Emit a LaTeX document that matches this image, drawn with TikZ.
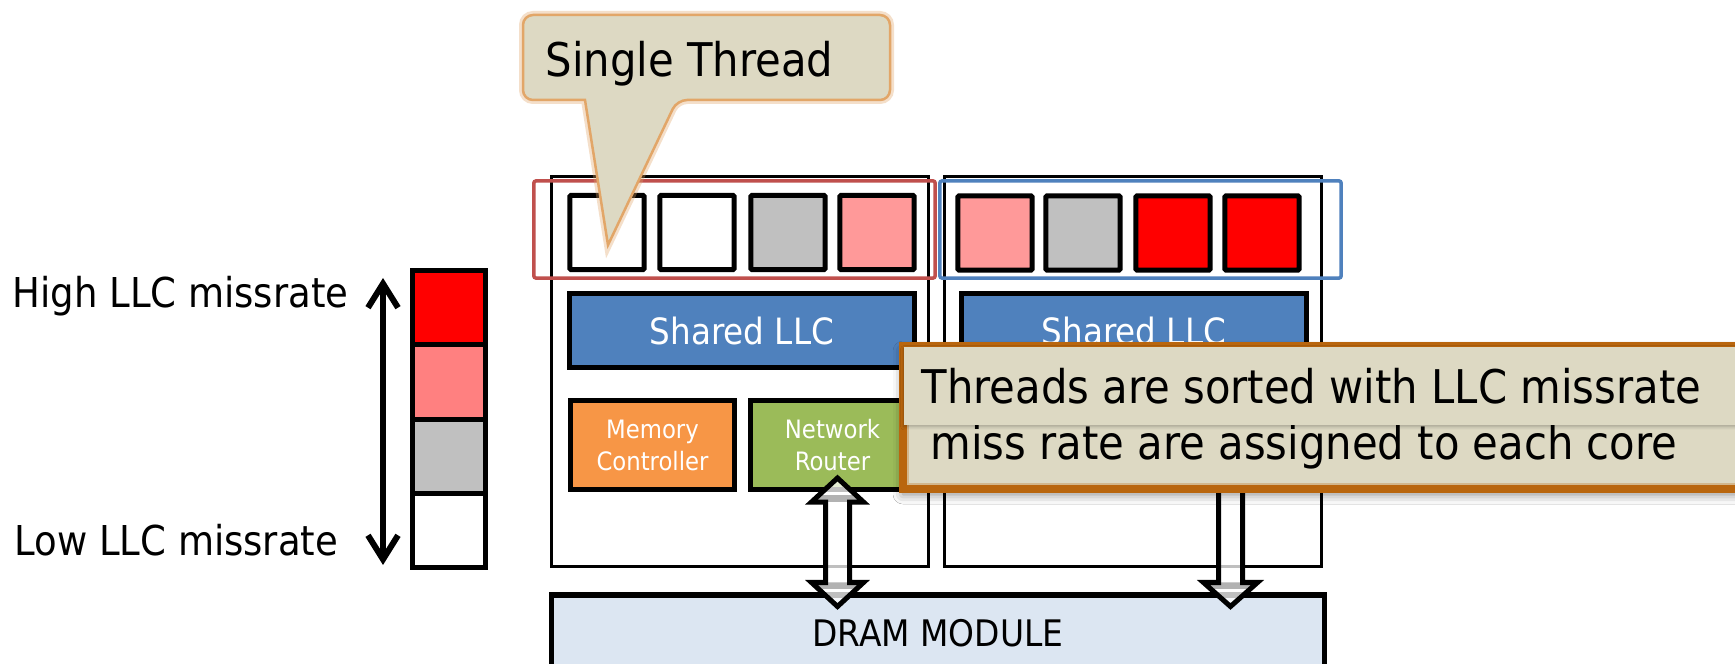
\documentclass[tikz,border=0pt]{standalone}
\usepackage{fontspec}
\setmainfont{DejaVu Sans Condensed}
\usetikzlibrary{arrows.meta, positioning, calc, shadows.blur}

\definecolor{llcblue}{RGB}{79,129,189}
\definecolor{mcorange}{RGB}{247,150,70}
\definecolor{nrgreen}{RGB}{155,187,89}
\definecolor{dramblue}{RGB}{220,230,242}
\definecolor{hotred}{RGB}{255,0,0}
\definecolor{warmpink}{RGB}{255,153,153}
\definecolor{legendpink}{RGB}{255,128,128}
\definecolor{coolgray}{RGB}{192,192,192}
\definecolor{selred}{RGB}{192,80,77}
\definecolor{selblue}{RGB}{79,129,189}
\definecolor{notebeige}{RGB}{221,217,195}
\definecolor{noteedge}{RGB}{226,166,104}
\definecolor{notebrown}{RGB}{185,102,14}

\tikzset{
  legendlabel/.style={inner sep=0pt, font=\fontsize{11.7}{14}\selectfont},
  legendcell/.style={rectangle, draw=black, line width=0.05cm, inner sep=0pt,
    outer sep=0pt, minimum width=0.73cm, minimum height=0.7425cm},
  scalearrow/.style={{Straight Barb[length=0.24cm, width=0.3cm]}-{Straight Barb[length=0.24cm, width=0.3cm]},
    line width=0.06cm, line cap=round},
  corebox/.style={rectangle, draw=black, line width=0.03cm, inner sep=0pt,
    minimum width=3.77cm, minimum height=3.90cm},
  threadbox/.style={rectangle, draw=black, line width=0.05cm, inner sep=0pt,
    rounded corners=0.01cm, minimum width=0.74cm, minimum height=0.74cm},
  groupbox/.style={rectangle, rounded corners=0.02cm, line width=0.035cm,
    inner sep=0pt, minimum width=4.01cm, minimum height=0.97cm},
  llcblock/.style={rectangle, draw=black, line width=0.05cm, fill=llcblue,
    text=white, minimum width=3.45cm, minimum height=0.74cm,
    font=\fontsize{10.3}{12}\selectfont},
  unitblock/.style={rectangle, draw=black, line width=0.05cm, text=white,
    minimum width=1.64cm, minimum height=0.89cm, align=center,
    font=\fontsize{7.2}{9.1}\selectfont},
  drambox/.style={rectangle, draw=black, line width=0.05cm, fill=dramblue,
    minimum width=7.73cm, minimum height=0.77cm,
    font=\fontsize{10.4}{12}\selectfont},
  linkedge/.style={draw=black, line width=0.05cm, line join=miter},
  tipnote/.style={fill=notebeige, draw=noteedge, line width=0.025cm,
    preaction={draw=noteedge, line width=0.08cm, draw opacity=0.35}},
  notetext/.style={inner sep=0pt, font=\fontsize{13.2}{16}\selectfont},
  sortback/.style={rectangle, fill=notebeige, draw=notebrown, line width=0.08cm,
    inner sep=0pt, minimum width=9cm, minimum height=1.43cm,
    blur shadow={shadow xshift=0cm, shadow yshift=-0.05cm,
      shadow blur radius=0.1cm, shadow opacity=50}},
  sortfront/.style={rectangle, fill=notebeige, inner sep=0pt,
    minimum width=8.6cm, minimum height=0.78cm,
    blur shadow={shadow xshift=0cm, shadow yshift=-0.02cm,
      shadow blur radius=0.03cm, shadow opacity=25}},
}

\begin{document}
\begin{tikzpicture}[x=0.01cm, y=-0.01cm]
  \useasboundingbox (0,0) rectangle (1735,664);
  \clip (0,0) rectangle (1735,664);
  \fill[white] (0,0) rectangle (1735,664);

  % miss-rate scale on the left
  \node[legendlabel, anchor=base west] (hightxt) at (12,308) {High LLC missrate};
  \node[legendlabel, anchor=base west] (lowtxt) at (14,555) {Low LLC missrate};
  \node[legendcell, fill=hotred] (lvl4) at (449,307.6) {};
  \node[legendcell, fill=legendpink, below=0pt of lvl4] (lvl3) {};
  \node[legendcell, fill=coolgray, below=0pt of lvl3] (lvl2) {};
  \node[legendcell, fill=white, below=0pt of lvl2] (lvl1) {};
  \coordinate (hi) at (383,278);
  \coordinate (lo) at (383,565);
  \draw[scalearrow] (lo) -- (hi);

  % two cores
  \node[corebox] (core1) at (740,371.5) {};
  \node[corebox] (core2) at (1133,371.5) {};

  \node[threadbox, fill=white] (t11) at (607,232.5) {};
  \node[threadbox, fill=white] (t12) at (697,232.5) {};
  \node[threadbox, fill=coolgray] (t13) at (788,232.5) {};
  \node[threadbox, fill=warmpink] (t14) at (877,232.5) {};

  \node[threadbox, fill=warmpink] (t21) at (995,233) {};
  \node[threadbox, fill=coolgray] (t22) at (1083,233) {};
  \node[threadbox, fill=hotred] (t23) at (1173,233) {};
  \node[threadbox, fill=hotred] (t24) at (1262,233) {};

  \node[llcblock] (llc1) at (742,330.5) {Shared LLC};
  \node[llcblock] (llc2) at (1134,330.5) {Shared LLC};

  \node[unitblock, fill=mcorange] (mc1) at (652.5,445) {Memory\\Controller};
  \node[unitblock, fill=nrgreen] (nr1) at (832.5,445) {Network\\Router};
  \node[unitblock, fill=mcorange] (mc2) at (1045.5,445) {};
  \node[unitblock, fill=nrgreen] (nr2) at (1225.5,445) {};

  \node[drambox, anchor=north] (dram) at (938,592.5) {DRAM MODULE};

  % router <-> DRAM link of core 1
  \coordinate (up1) at ($(nr1.south)+(5,-14)$);
  \coordinate (dn1) at ($(up1 |- dram.north)+(0,14)$);
  \path[save path=\linkone] (up1) -- ++(26,24) -- ++(-14,0)
    -- ($(dn1)+(12,-24)$) -- ++(14,0) -- (dn1) -- ++(-26,-24) -- ++(14,0)
    -- ($(up1)+(-12,24)$) -- ++(-14,0) -- cycle;
  \path[use path=\linkone, fill=white, fill opacity=0.75];
  \begin{scope}
    \clip ($(up1)+(-26,24)$) -- (up1) -- ++(26,24) -- cycle;
    \fill[gray!60] ($(up1)+(-30,17)$) rectangle ($(up1)+(30,24)$);
  \end{scope}
  \begin{scope}
    \clip ($(dn1)+(-26,-24)$) -- (dn1) -- ++(26,-24) -- cycle;
    \fill[gray!60] ($(dn1)+(-30,-24)$) rectangle ($(dn1)+(30,-17)$);
  \end{scope}
  \path[use path=\linkone, linkedge];

  % router -> DRAM link of core 2
  \coordinate (up2) at ($(nr2.center)+(5,0)$);
  \coordinate (dn2) at ($(up2 |- dram.north)+(0,14)$);
  \path[save path=\linktwo] ($(up2)+(-12,0)$) -- ($(dn2)+(-12,-24)$) -- ++(-15,0)
    -- (dn2) -- ++(27,-24) -- ++(-15,0) -- ($(up2)+(12,0)$) -- cycle;
  \path[use path=\linktwo, fill=white, fill opacity=0.75];
  \begin{scope}
    \clip ($(dn2)+(-27,-24)$) -- (dn2) -- ++(27,-24) -- cycle;
    \fill[gray!60] ($(dn2)+(-30,-24)$) rectangle ($(dn2)+(30,-17)$);
  \end{scope}
  \path[use path=\linktwo, linkedge];

  % thread groups per core
  \node[groupbox, draw=selred] (grp1) at (734.5,229.5) {};
  \node[groupbox, draw=selblue] (grp2) at (1140.5,229.5) {};

  % callout on a single thread
  \draw[tipnote] (700,15) [rounded corners=0.1cm] -- (890,15) -- (890,100)
    -- (677,100) [sharp corners] -- (608,245) -- (585,100)
    [rounded corners=0.1cm] -- (523,100) -- (523,15) -- cycle;
  \node[notetext, anchor=base west] (single) at (545,77) {Single Thread};

  % note on thread sorting
  \node[sortback, anchor=north west] (sortnote) at (899,342) {};
  \draw[notebrown, line width=0.06cm, draw opacity=0.3]
    ($(sortnote.north west)+(7,7)$) rectangle ($(sortnote.south east)+(-7,-7)$);
  \node[notetext, anchor=base west] (assigned) at (930,460)
    {miss rate are assigned to each core};
  \node[sortfront, anchor=north west] (sortcover) at (903,346) {};
  \node[notetext, anchor=base west] (sorted) at (921,403)
    {Threads are sorted with LLC missrate};
\end{tikzpicture}
\end{document}
